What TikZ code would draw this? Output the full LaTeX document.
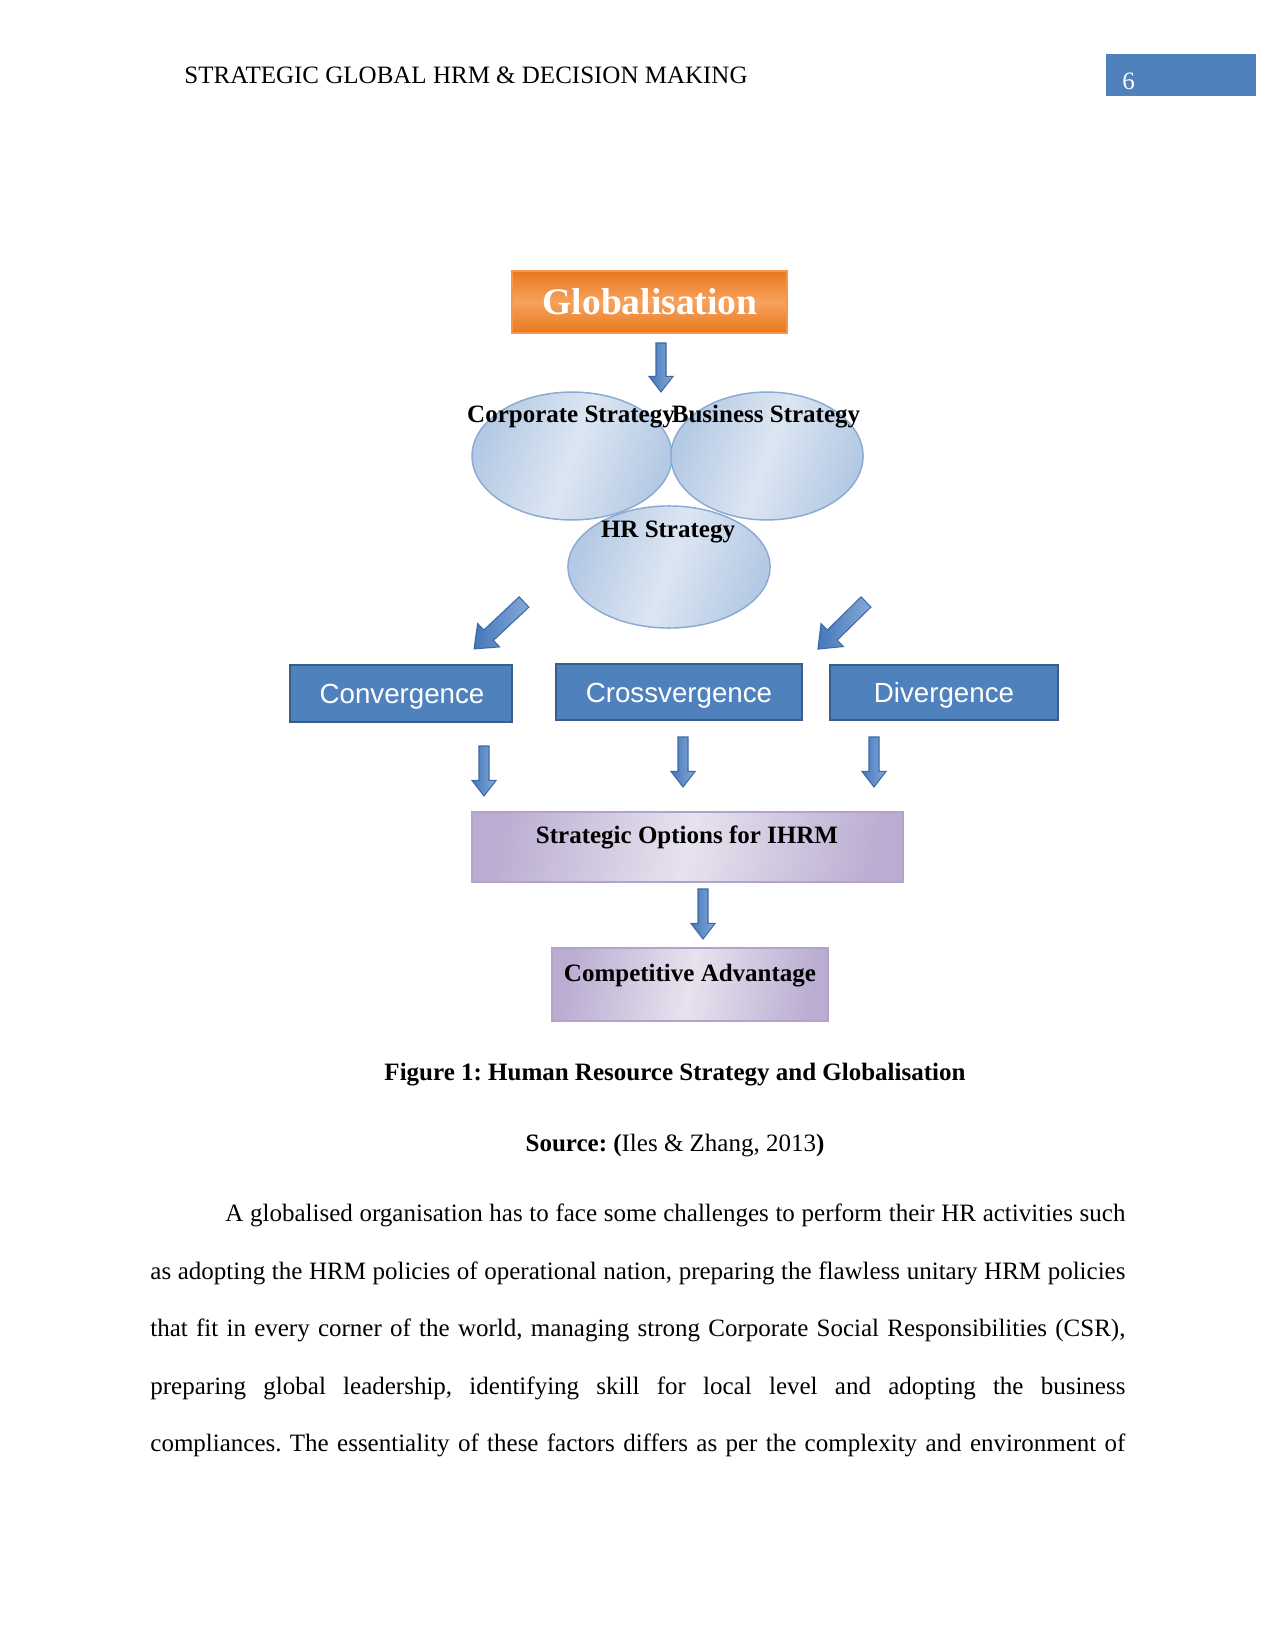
\documentclass[tikz,border=0pt]{standalone}
\usepackage{fontspec}
\setmainfont{Liberation Serif}
\newfontfamily\arialf{Liberation Sans}
\frenchspacing
\usetikzlibrary{shapes.geometric}
\definecolor{ellA}{HTML}{B4C9E4}
\definecolor{ellB}{HTML}{DCE6F2}
\definecolor{ellD}{HTML}{8AAAD3}
\definecolor{orA}{HTML}{E9781D}
\definecolor{orB}{HTML}{F6A25C}
\definecolor{orD}{HTML}{F79646}
\definecolor{lavA}{HTML}{BBADD2}
\definecolor{lavB}{HTML}{E7E2EE}
\definecolor{lavD}{HTML}{B3A2CB}
\definecolor{offblue}{HTML}{4F81BD}
\definecolor{offblueD}{HTML}{385D8A}
\definecolor{arrA}{HTML}{4577BA}
\definecolor{arrB}{HTML}{86A9D8}
\definecolor{arrD}{HTML}{3A6AA8}
\newcommand\downarr[4]{% x, y, angle, length(pt)
  \begin{scope}[shift={(#1,#2)},rotate=#3]
    \path[barrow] (0pt,-2.4pt) -- ({#4-7.5pt},-2.4pt) -- ({#4-7.5pt},-5.8pt) -- (#4,0pt)
      -- ({#4-7.5pt},5.8pt) -- ({#4-7.5pt},2.4pt) -- (0pt,2.4pt) -- cycle;
  \end{scope}}
\newcommand\diagarr[4]{% x, y, angle, length(pt)
  \begin{scope}[shift={(#1,#2)},rotate=#3]
    \path[barrow] (0pt,-3.4pt) -- ({#4-9.6pt},-3.4pt) -- ({#4-9.6pt},-7.7pt) -- (#4,0pt)
      -- ({#4-9.6pt},7.7pt) -- ({#4-9.6pt},3.4pt) -- (0pt,3.4pt) -- cycle;
  \end{scope}}
\begin{document}
\begin{tikzpicture}[x=0.48pt,y=-0.48pt,
  ell/.style={ellipse, draw=ellD, line width=0.7pt, left color=ellA, right color=ellA, middle color=ellB, shading angle=70, inner sep=0pt},
  orbox/.style={rectangle, draw=orD, line width=0.8pt, top color=orA, bottom color=orA, middle color=orB, inner sep=0pt},
  bluebox/.style={rectangle, draw=offblueD, line width=1.3pt, fill=offblue, inner sep=0pt},
  lavbox/.style={rectangle, draw=lavD, line width=0.6pt, left color=lavA, right color=lavA, middle color=lavB, shading angle=80, inner sep=0pt},
  barrow/.style={draw=arrD, line width=0.5pt, left color=arrA, right color=arrB, line join=miter},
  bsans/.style={font=\arialf\fontsize{13.3}{16}\selectfont, text=white, anchor=base},
  bser/.style={font=\bfseries\fontsize{12}{14}\selectfont, anchor=base, inner sep=0pt},
  body/.style={font=\fontsize{12}{14}\selectfont, anchor=base west, inner sep=0pt}
]
\useasboundingbox (0,0) rectangle (1275,1650);
\fill[white] (0,0) rectangle (1275,1650);

% header
\node[body] (hdr) at (184,84) {STRATEGIC GLOBAL HRM \& DECISION MAKING};
\fill[offblue] (1106,54) rectangle (1256,96);
\node[body, text=white] (pg) at (1122,90) {6};

% globalisation
\node[orbox, minimum width=132pt, minimum height=29.8pt] (glob) at (649.5,302) {};
\node[font=\bfseries\fontsize{18}{20}\selectfont, text=white, anchor=base, inner sep=0pt] (globt) at (650,315) {Globalisation};
\downarr{661}{343}{-90}{23.5pt}

% ellipses
\node[ell, minimum width=96pt, minimum height=61.4pt] (corp) at (572,456) {};
\node[ell, minimum width=92.2pt, minimum height=61.4pt] (bus) at (767,456) {};
\node[ell, minimum width=97pt, minimum height=58.6pt] (hr) at (669,567) {};
\node[bser] (corpt) at (571,423) {Corporate Strategy};
\node[bser] (bust) at (766,423) {Business Strategy};
\node[bser] (hrt) at (668,537) {HR Strategy};

% diagonal arrows
\diagarr{524}{602}{-136.8}{32.9pt}
\diagarr{866}{602}{-135.6}{32.3pt}

% three boxes
\node[bluebox, minimum width=106.6pt, minimum height=27.4pt] (conv) at (401,693.5) {};
\node[bluebox, minimum width=118pt, minimum height=26.9pt] (cross) at (679,692) {};
\node[bluebox, minimum width=109.4pt, minimum height=26.4pt] (div) at (944,692.5) {};
\node[bsans] (convt) at (402,703) {Convergence};
\node[bsans] (crosst) at (679,702) {Crossvergence};
\node[bsans] (divt) at (944,702) {Divergence};

\downarr{484}{746}{-90}{24pt}
\downarr{683}{737}{-90}{24pt}
\downarr{874}{737}{-90}{24pt}

% strategic options
\node[lavbox, minimum width=206.9pt, minimum height=33.6pt] (strat) at (687.5,847) {};
\node[bser] (stratt) at (687,843) {Strategic Options for IHRM};
\downarr{703}{889}{-90}{24pt}
\node[lavbox, minimum width=132.5pt, minimum height=35pt] (comp) at (690,984.5) {};
\node[bser] (compt) at (690,981) {Competitive Advantage};

% caption
\node[bser] (cap) at (675,1080) {Figure 1: Human Resource Strategy and Globalisation};
\node[body, anchor=base] (src) at (675,1151) {\textbf{Source: (}Iles \& Zhang, 2013\textbf{)}};

% body
\node[body] (l1) at (225,1221) {\makebox[432pt][s]{A globalised organisation has to face some challenges to perform their HR activities such}};
\node[body] (l2) at (150,1279) {\makebox[468pt][s]{as adopting the HRM policies of operational nation, preparing the flawless unitary HRM policies}};
\node[body] (l3) at (150,1336) {\makebox[468pt][s]{that fit in every corner of the world, managing strong Corporate Social Responsibilities (CSR),}};
\node[body] (l4) at (150,1394) {\makebox[468pt][s]{preparing global leadership, identifying skill for local level and adopting the business}};
\node[body] (l5) at (150,1451) {\makebox[468pt][s]{compliances. The essentiality of these factors differs as per the complexity and environment of}};
\end{tikzpicture}
\end{document}
